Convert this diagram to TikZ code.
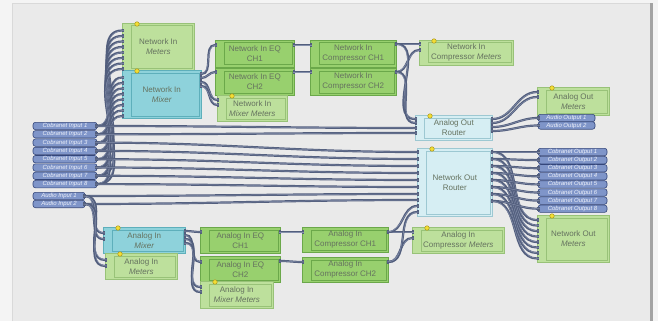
\documentclass[tikz,border=0pt]{standalone}
\usepackage{fontspec}
\setmainfont{Liberation Sans}
\usetikzlibrary{arrows.meta}

\definecolor{outerbg}{HTML}{F4F4F4}
\definecolor{panel}{HTML}{EAEAEA}
\definecolor{edgec}{HTML}{A3A3A3}
\definecolor{metfill}{HTML}{BDE09C}
\definecolor{metline}{HTML}{98C278}
\definecolor{eqfill}{HTML}{98D06E}
\definecolor{eqline}{HTML}{6BA84A}
\definecolor{mixfill}{HTML}{8ED2DB}
\definecolor{mixline}{HTML}{5EAFBB}
\definecolor{roufill}{HTML}{D6EEF3}
\definecolor{rouline}{HTML}{9DC8D2}
\definecolor{txtc}{HTML}{65725F}
\definecolor{ioc}{HTML}{7F95C9}
\definecolor{iol}{HTML}{34467A}
\definecolor{iotxt}{HTML}{EEF1FA}
\definecolor{wirec}{HTML}{525E7D}
\definecolor{wirehl}{HTML}{8590AC}
\definecolor{ledc}{HTML}{F2DE33}
\definecolor{ledl}{HTML}{AE9822}

\newcommand\blkfont{\fontsize{8}{10}\selectfont}
\newcommand\iofont{\fontsize{6}{6}\selectfont\itshape}

\tikzset{
    blk/.style={anchor=north west, inner sep=0pt, align=center, text=txtc, font=\blkfont, line width=0.6pt,
        path picture={\draw[#1, line width=0.6pt] ([xshift=9pt,yshift=-2.5pt]path picture bounding box.north west) rectangle ([xshift=-2.5pt,yshift=2.5pt]path picture bounding box.south east);}},
    metblk/.style={blk=metline, fill=metfill, draw=metline},
    eqblk/.style={blk=eqline, fill=eqfill, draw=eqline},
    mixblk/.style={blk=mixline, fill=mixfill, draw=mixline},
    roublk/.style={blk=rouline, fill=roufill, draw=rouline},
    sz/.style 2 args={minimum width=#1pt, minimum height=#2pt},
    io/.style={rounded corners=2.5pt, fill=ioc, draw=iol, line width=0.6pt, inner sep=0pt, minimum height=7.4pt, text=iotxt, font=\iofont},
    led/.style={circle, fill=ledc, draw=ledl, line width=0.5pt, minimum size=4.5pt, inner sep=0pt},
    wire/.style={draw=wirec, line width=2.2pt, {Square[length=2.5pt,width=3.8pt]}-{Square[length=2.5pt,width=3.8pt]}, shorten <=-2pt, shorten >=-2pt,
        postaction={draw=wirehl, line width=0.5pt, -}},
}

\begin{document}
\begin{tikzpicture}[x=1pt,y=-1pt]
\useasboundingbox (0,0) rectangle (658,321);
\fill[outerbg] (0,0) rectangle (658,321);
\fill[panel] (12,3) rectangle (651,321);
\fill[edgec] (650,3) rectangle (653,321);
\draw[black!15] (12,321) -- (12,3) -- (650,3);

% network in chain
\node[metblk, sz={72}{47}] (nimet) at (122,23) {Network In\\\textit{Meters}};
\node[mixblk, sz={79}{48}] (nimix) at (122,70) {Network In\\\textit{Mixer}};
\node[eqblk, sz={79}{27}] (nieq1) at (215,40) {Network In EQ\\CH1};
\node[eqblk, sz={79}{27}] (nieq2) at (215,68) {Network In EQ\\CH2};
\node[metblk, sz={70}{26}] (nimm) at (217,95) {Network In\\\textit{Mixer Meters}};
\node[eqblk, sz={86}{27}] (nic1) at (310,40) {Network In\\Compressor CH1};
\node[eqblk, sz={86}{27}] (nic2) at (310,68) {Network In\\Compressor CH2};
\node[metblk, sz={94}{25}] (nicm) at (419,40) {Network In\\Compressor \textit{Meters}};

% outputs
\node[metblk, sz={72}{28}] (aom) at (537,87) {Analog Out\\\textit{Meters}};
\node[roublk, sz={77}{25}] (aor) at (415,115) {Analog Out\\Router};
\node[roublk, sz={75}{68}] (nor) at (417,148) {Network Out\\Router};
\node[metblk, sz={72}{47}] (nom) at (537,215) {Network Out\\\textit{Meters}};

% analog in chain
\node[mixblk, sz={82}{26}] (aimix) at (103,227) {Analog In\\\textit{Mixer}};
\node[metblk, sz={72}{26}] (aim) at (105,253) {Analog In\\\textit{Meters}};
\node[eqblk, sz={80}{26}] (aieq1) at (200,227) {Analog In EQ\\CH1};
\node[eqblk, sz={80}{26}] (aieq2) at (200,256) {Analog In EQ\\CH2};
\node[metblk, sz={73}{27}] (aimm) at (200,281) {Analog In\\\textit{Mixer Meters}};
\node[eqblk, sz={86}{25}] (aic1) at (302,227) {Analog In\\Compressor CH1};
\node[eqblk, sz={86}{25}] (aic2) at (302,257) {Analog In\\Compressor CH2};
\node[metblk, sz={92}{26}] (aicm) at (412,227) {Analog In\\Compressor \textit{Meters}};

% inputs and outputs
\foreach \i in {1,...,8} {
    \pgfmathsetmacro\yy{126+8.3*(\i-1)}
    \node[io, minimum width=64pt] (cin\i) at (65,\yy) {Cobranet Input \i};
    \pgfmathsetmacro\yy{152+8.1*(\i-1)}
    \node[io, minimum width=69pt] (cout\i) at (572.5,\yy) {Cobranet Output \i};
}
\foreach \i in {1,2} {
    \pgfmathsetmacro\yy{196+8*(\i-1)}
    \node[io, minimum width=52pt] (ain\i) at (59,\yy) {Audio Input \i};
    \pgfmathsetmacro\yy{118+7.5*(\i-1)}
    \node[io, minimum width=57pt] (aout\i) at (566.5,\yy) {Audio Output \i};
}

% cobranet inputs up to network in
\foreach \i in {1,...,8} {
    \pgfmathsetmacro\py{-2-5.5*\i}
    \draw[wire] (cin\i.east) to[out=0,in=180] ([yshift=\py pt]nimet.north west);
    \draw[wire] (cin\i.east) to[out=0,in=180] ([yshift=\py pt]nimix.north west);
}
% inputs across to the routers
\draw[wire] (cin1.east) to[out=0,in=180] ([yshift=-13pt]aor.north west);
\draw[wire] (cin2.east) to[out=0,in=180] ([yshift=-18pt]aor.north west);
\foreach \i/\p in {3/4,4/11,5/18,6/25,7/32,8/39}
    \draw[wire] (cin\i.east) to[out=0,in=180] ([yshift=-\p pt]nor.north west);
\draw[wire] (ain1.east) to[out=0,in=180] ([yshift=-46pt]nor.north west);
\draw[wire] (ain2.east) to[out=0,in=180] ([yshift=-52pt]nor.north west);
\draw[wire] (ain1.east) to[out=0,in=180] ([yshift=-6pt]aimix.north west);
\draw[wire] (ain2.east) to[out=0,in=180] ([yshift=-12pt]aimix.north west);
\draw[wire] (ain1.east) to[out=0,in=180] ([yshift=-7pt]aim.north west);
\draw[wire] (ain2.east) to[out=0,in=180] ([yshift=-13pt]aim.north west);

% network in mixer onwards
\draw[wire] ([yshift=-4pt]nimix.north east) to[out=0,in=180] ([yshift=-5pt]nieq1.north west);
\draw[wire] ([yshift=-8pt]nimix.north east) to[out=0,in=180] ([yshift=-4pt]nieq2.north west);
\draw[wire] ([yshift=-12pt]nimix.north east) to[out=0,in=180] ([yshift=-5pt]nimm.north west);
\draw[wire] ([yshift=-16pt]nimix.north east) to[out=0,in=180] ([yshift=-10pt]nimm.north west);
\draw[wire] ([yshift=-5pt]nieq1.north east) -- ([yshift=-5pt]nic1.north west);
\draw[wire] ([yshift=-4pt]nieq2.north east) -- ([yshift=-4pt]nic2.north west);
\draw[wire] ([yshift=-4pt]nic1.north east) to[out=0,in=180] ([yshift=-4pt]nicm.north west);
\draw[wire] ([yshift=-4pt]nic2.north east) to[out=0,in=180] ([yshift=-10pt]nicm.north west);
\draw[wire] ([yshift=-4pt]nic1.north east) to[out=0,in=180] ([yshift=-4pt]aor.north west);
\draw[wire] ([yshift=-4pt]nic2.north east) to[out=0,in=180] ([yshift=-8pt]aor.north west);

% analog out router
\draw[wire] ([yshift=-4pt]aor.north east) to[out=0,in=180] ([yshift=-5pt]aom.north west);
\draw[wire] ([yshift=-8pt]aor.north east) to[out=0,in=180] ([yshift=-10pt]aom.north west);
\draw[wire] ([yshift=-12pt]aor.north east) to[out=0,in=180] (aout1.west);
\draw[wire] ([yshift=-16pt]aor.north east) to[out=0,in=180] (aout2.west);

% network out router
\foreach \k in {1,...,8} {
    \pgfmathsetmacro\py{-4-7*(\k-1)}
    \pgfmathsetmacro\qy{-5-5.5*(\k-1)}
    \draw[wire] ([yshift=\py pt]nor.north east) to[out=0,in=180] (cout\k.west);
    \draw[wire] ([yshift=\py pt]nor.north east) to[out=0,in=180] ([yshift=\qy pt]nom.north west);
}

% analog in mixer onwards
\draw[wire] ([yshift=-4pt]aimix.north east) to[out=0,in=180] ([yshift=-5pt]aieq1.north west);
\draw[wire] ([yshift=-8pt]aimix.north east) to[out=0,in=180] ([yshift=-6pt]aieq2.north west);
\draw[wire] ([yshift=-12pt]aimix.north east) to[out=0,in=180] ([yshift=-6pt]aimm.north west);
\draw[wire] ([yshift=-16pt]aimix.north east) to[out=0,in=180] ([yshift=-11pt]aimm.north west);
\draw[wire] ([yshift=-5pt]aieq1.north east) -- ([yshift=-5pt]aic1.north west);
\draw[wire] ([yshift=-5pt]aieq2.north east) to[out=0,in=180] ([yshift=-5pt]aic2.north west);
\draw[wire] ([yshift=-5pt]aic1.north east) to[out=0,in=180] ([yshift=-5pt]aicm.north west);
\draw[wire] ([yshift=-5pt]aic2.north east) to[out=0,in=180] ([yshift=-11pt]aicm.north west);
\draw[wire] ([yshift=-5pt]aic1.north east) to[out=0,in=180] ([yshift=-58pt]nor.north west);
\draw[wire] ([yshift=-5pt]aic2.north east) to[out=0,in=180] ([yshift=-64pt]nor.north west);

% status leds
\foreach \n in {nimet,nimix,nimm,nicm,aom,aor,nor,nom,aimix,aim,aimm,aicm}
    \node[led] at ([xshift=15pt,yshift=-1pt]\n.north west) {};
\end{tikzpicture}
\end{document}
